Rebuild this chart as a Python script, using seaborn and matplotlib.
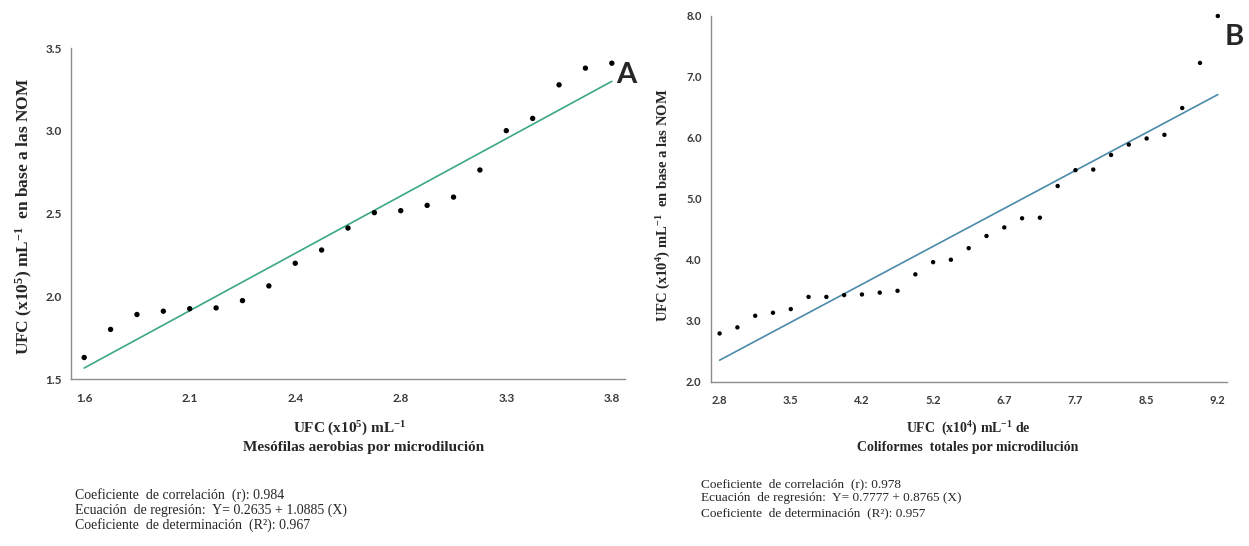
import numpy as np
import pandas as pd
import matplotlib.pyplot as plt
import seaborn as sns

# Panel A: mesofilas aerobias
meso_ticklabels = ['1.6', '2.1', '2.4', '2.8', '3.3', '3.8']
meso_nom = [1.63, 1.80, 1.89, 1.91, 1.925, 1.93, 1.974, 2.063, 2.20, 2.28, 2.413,
            2.506, 2.518, 2.55, 2.60, 2.764, 3.002, 3.076, 3.279, 3.38, 3.41]
meso_stats = ['Coeficiente  de correlación  (r): 0.984',
              'Ecuación  de regresión:  Y= 0.2635 + 1.0885 (X)',
              'Coeficiente  de determinación  (R²): 0.967']

# Panel B: coliformes totales
coli_ticklabels = ['2.8', '3.5', '4.2', '5.2', '6.7', '7.7', '8.5', '9.2']
coli_nom = [2.79, 2.89, 3.08, 3.13, 3.19, 3.39, 3.39, 3.42, 3.43, 3.46, 3.49, 3.76,
            3.96, 4.00, 4.19, 4.39, 4.53, 4.68, 4.69, 5.21, 5.47, 5.48, 5.72, 5.89,
            5.99, 6.05, 6.49, 7.23, 8.00]
coli_stats = ['Coeficiente  de correlación  (r): 0.978',
              'Ecuación  de regresión:  Y= 0.7777 + 0.8765 (X)',
              'Coeficiente  de determinación  (R²): 0.957']

sns.set_style('white')
plt.rcParams['mathtext.fontset'] = 'custom'
plt.rcParams['mathtext.rm'] = 'Liberation Serif:bold'
plt.rcParams['mathtext.it'] = 'Liberation Serif:bold'
plt.rcParams['mathtext.bf'] = 'Liberation Serif:bold'

W, H = 1249, 546
fig = plt.figure(figsize=(W / 100, H / 100), dpi=100)


def px(x, y):
    return x / W, 1 - y / H


def draw_panel(ax, values, ticklabels, color, ylim, ystep, msize, tsize):
    df = pd.DataFrame({'idx': np.arange(len(values)), 'nom': values})
    sns.regplot(data=df, x='idx', y='nom', ax=ax, scatter=False, ci=None,
                truncate=True, line_kws={'color': color, 'lw': 1.2})
    sns.scatterplot(data=df, x='idx', y='nom', ax=ax, color='black', s=msize,
                    edgecolor='none', zorder=3, clip_on=False)
    n = len(values)
    ax.set_xlim(-0.5, n - 0.5)
    ax.set_ylim(*ylim)
    ax.set_xticks(np.arange(0, n, 4))
    ax.set_xticklabels(ticklabels)
    ax.set_xticks(np.arange(-0.5, n, 1), minor=True)
    yt = np.arange(ylim[0], ylim[1] + 0.01, ystep)
    ax.set_yticks(yt)
    ax.set_yticklabels([f'{v:.1f}' for v in yt])
    ax.set_xlabel('')
    ax.set_ylabel('')
    for s in ['top', 'right']:
        ax.spines[s].set_visible(False)
    for s in ['left', 'bottom']:
        ax.spines[s].set_color('#8c8c8c')
        ax.spines[s].set_linewidth(1.0)
    ax.tick_params(axis='x', which='major', length=0, pad=10)
    ax.tick_params(axis='x', which='minor', length=4, color='#8c8c8c', direction='out')
    ax.tick_params(axis='y', length=3.5, color='#8c8c8c', direction='out', pad=3)
    ax.tick_params(axis='both', labelsize=tsize, labelcolor='#3a3a3a')
    for lab in ax.get_xticklabels() + ax.get_yticklabels():
        lab.set_fontfamily('Lato')
        lab.set_fontweight('bold')


ax_a = fig.add_axes([71 / W, 1 - 379 / H, 554 / W, (379 - 48.3) / H])
draw_panel(ax_a, meso_nom, meso_ticklabels, '#3aa883', (1.5, 3.5), 0.5, 15, 8.5)

ax_b = fig.add_axes([710.7 / W, 1 - 381.6 / H, 516 / W, (381.6 - 16) / H])
draw_panel(ax_b, coli_nom, coli_ticklabels, '#4a8aaa', (2.0, 8.0), 1.0, 10, 8)

serif = 'Liberation Serif'
# axis titles
fig.text(*px(24, 216), r'UFC (x10$^{5}$) mL$^{-1}$  en base a las NOM', rotation=90,
         ha='center', va='center', family=serif, weight='bold', fontsize=12.5)
fig.text(*px(664, 205), r'UFC (x10$^{4}$) mL$^{-1}$  en base a las NOM', rotation=90,
         ha='center', va='center', family=serif, weight='bold', fontsize=10.5)

fig.text(*px(350, 429), r'UFC (x10$^{5}$) mL$^{-1}$', ha='center', va='center',
         family=serif, weight='bold', fontsize=11)
fig.text(*px(364, 448), 'Mesófilas aerobias por microdilución', ha='center', va='center',
         family=serif, weight='bold', fontsize=11)
fig.text(*px(968, 429), r'UFC  (x10$^{4}$) mL$^{-1}$ de', ha='center', va='center',
         family=serif, weight='bold', fontsize=10)
fig.text(*px(968, 447), 'Coliformes  totales por microdilución', ha='center', va='center',
         family=serif, weight='bold', fontsize=10)

# panel letters
fig.text(*px(626, 75), 'A', ha='center', va='center', family='Lato', weight='bold',
         fontsize=21)
fig.text(*px(1234, 37), 'B', ha='center', va='center', family='Lato', weight='bold',
         fontsize=21)

# regression statistics
for i, line in enumerate(meso_stats):
    fig.text(*px(75, 499 + i * 15), line, ha='left', va='baseline', family=serif,
             fontsize=10)
for i, line in enumerate(coli_stats):
    fig.text(*px(701, 487 + i * 14.5), line, ha='left', va='baseline', family=serif,
             fontsize=9.5)

fig.savefig('out.png', dpi=100)
